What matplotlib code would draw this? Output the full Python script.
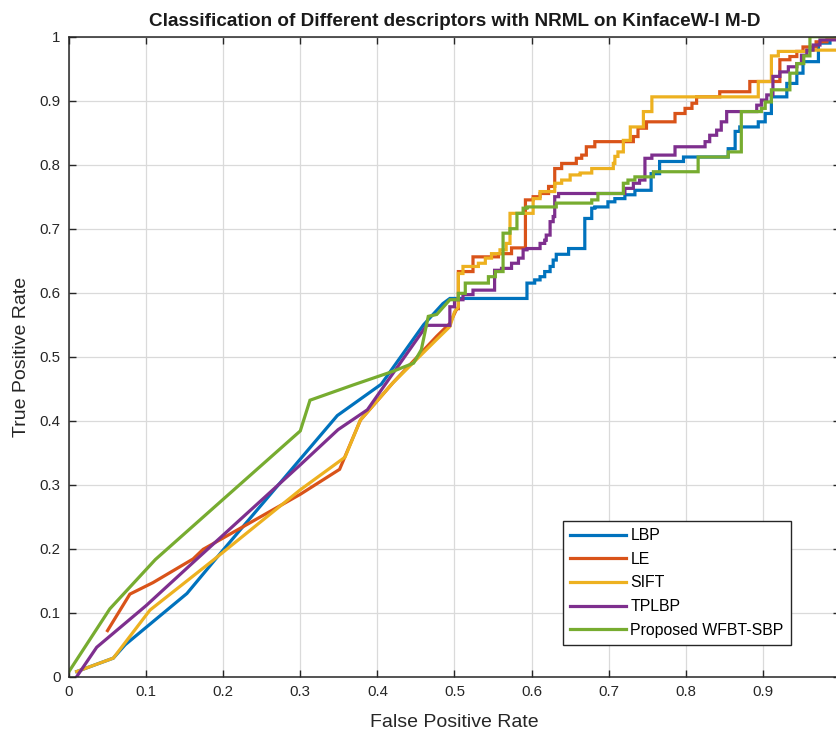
import matplotlib
matplotlib.use("Agg")
import matplotlib.pyplot as plt

plt.rcParams['font.family'] = ['Liberation Sans', 'DejaVu Sans']

labels = ["LBP", "LE", "SIFT", "TPLBP", "Proposed WFBT-SBP"]
colors = ["#0072BD", "#D95319", "#EDB120", "#7E2F8E", "#77AC30"]

# ---- linear (low FPR) part of each curve ----
lbp_x = [0.010, 0.0575, 0.073, 0.153, 0.200, 0.300, 0.348, 0.405, 0.460, 0.485, 0.494]
lbp_y = [0.008, 0.029, 0.050, 0.130, 0.198, 0.340, 0.408, 0.457, 0.550, 0.583, 0.591]
le_x = [0.050, 0.079, 0.109, 0.161, 0.174, 0.300, 0.351, 0.378, 0.420, 0.477, 0.494, 0.503]
le_y = [0.072, 0.129, 0.147, 0.184, 0.199, 0.285, 0.324, 0.401, 0.459, 0.532, 0.552, 0.575]
sift_x = [0.010, 0.0575, 0.105, 0.187, 0.300, 0.358, 0.378, 0.420, 0.477, 0.494, 0.500, 0.505]
sift_y = [0.008, 0.029, 0.104, 0.182, 0.292, 0.343, 0.401, 0.459, 0.527, 0.547, 0.570, 0.578]
tplbp_x = [0.010, 0.036, 0.100, 0.166, 0.300, 0.349, 0.387, 0.464]
tplbp_y = [0.000, 0.046, 0.111, 0.184, 0.331, 0.386, 0.417, 0.549]
prop_x = [0.000, 0.053, 0.112, 0.2045, 0.300, 0.3126, 0.369, 0.420, 0.447, 0.457, 0.466, 0.477, 0.494]
prop_y = [0.008, 0.106, 0.183, 0.282, 0.384, 0.432, 0.456, 0.477, 0.490, 0.511, 0.563, 0.566, 0.589]

# ---- staircase (steps-post) part of each curve ----
lbp_sx = [0.494, 0.594, 0.604, 0.611, 0.617, 0.624, 0.628, 0.632, 0.648, 0.669, 0.678, 0.682,
          0.699, 0.708, 0.721, 0.734, 0.755, 0.766, 0.797, 0.855, 0.864, 0.870, 0.894, 0.903,
          0.911, 0.931, 0.944, 0.952, 0.972, 0.987, 1.000]
lbp_sy = [0.591, 0.615, 0.620, 0.625, 0.633, 0.641, 0.651, 0.660, 0.669, 0.716, 0.732, 0.734,
          0.742, 0.747, 0.753, 0.760, 0.786, 0.805, 0.812, 0.825, 0.852, 0.859, 0.867, 0.880,
          0.906, 0.927, 0.943, 0.961, 0.990, 0.997, 0.997]
le_sx = [0.503, 0.505, 0.524, 0.557, 0.574, 0.592, 0.602, 0.611, 0.622, 0.630, 0.639, 0.658,
         0.665, 0.671, 0.682, 0.732, 0.738, 0.749, 0.786, 0.799, 0.808, 0.814, 0.844, 0.883,
         0.922, 0.935, 0.944, 0.952, 0.969, 0.983, 1.000]
le_sy = [0.575, 0.633, 0.656, 0.661, 0.670, 0.745, 0.750, 0.755, 0.766, 0.794, 0.802, 0.810,
         0.815, 0.828, 0.836, 0.844, 0.857, 0.867, 0.880, 0.888, 0.896, 0.906, 0.914, 0.930,
         0.964, 0.969, 0.977, 0.984, 0.992, 0.997, 0.997]
sift_sx = [0.505, 0.505, 0.511, 0.531, 0.540, 0.548, 0.559, 0.567, 0.572, 0.602, 0.611, 0.630,
           0.639, 0.650, 0.663, 0.678, 0.706, 0.708, 0.712, 0.719, 0.728, 0.745, 0.756, 0.894,
           0.911, 0.920, 0.957, 1.000]
sift_sy = [0.578, 0.630, 0.641, 0.646, 0.654, 0.661, 0.667, 0.677, 0.724, 0.747, 0.758, 0.771,
           0.776, 0.784, 0.787, 0.794, 0.802, 0.813, 0.820, 0.838, 0.859, 0.883, 0.906, 0.930,
           0.970, 0.977, 0.979, 0.979]
tplbp_sx = [0.464, 0.494, 0.500, 0.511, 0.524, 0.552, 0.561, 0.574, 0.583, 0.589, 0.594, 0.611,
            0.617, 0.619, 0.624, 0.628, 0.630, 0.635, 0.721, 0.732, 0.740, 0.747, 0.756, 0.786,
            0.825, 0.831, 0.840, 0.846, 0.853, 0.892, 0.898, 0.905, 0.913, 0.922, 0.933, 0.944,
            0.950, 0.957, 0.965, 0.974, 1.000]
tplbp_sy = [0.549, 0.578, 0.589, 0.597, 0.604, 0.635, 0.638, 0.646, 0.654, 0.667, 0.669, 0.677,
            0.682, 0.690, 0.711, 0.719, 0.750, 0.755, 0.763, 0.771, 0.776, 0.810, 0.815, 0.828,
            0.836, 0.846, 0.854, 0.867, 0.883, 0.893, 0.901, 0.909, 0.938, 0.945, 0.953, 0.958,
            0.971, 0.979, 0.987, 0.995, 0.995]
prop_sx = [0.494, 0.505, 0.514, 0.544, 0.553, 0.563, 0.572, 0.581, 0.589, 0.594, 0.632, 0.678,
           0.686, 0.719, 0.725, 0.734, 0.758, 0.816, 0.855, 0.872, 0.898, 0.903, 0.911, 0.935,
           0.944, 0.953, 0.961, 1.000]
prop_sy = [0.589, 0.599, 0.615, 0.625, 0.633, 0.693, 0.700, 0.724, 0.732, 0.734, 0.740, 0.745,
           0.755, 0.771, 0.776, 0.781, 0.789, 0.812, 0.820, 0.883, 0.888, 0.898, 0.917, 0.943,
           0.958, 0.970, 1.000, 1.000]

tick_vals = [0, 0.1, 0.2, 0.3, 0.4, 0.5, 0.6, 0.7, 0.8, 0.9, 1]
x_tick_labels = ["0", "0.1", "0.2", "0.3", "0.4", "0.5", "0.6", "0.7", "0.8", "0.9", ""]
y_tick_labels = ["0", "0.1", "0.2", "0.3", "0.4", "0.5", "0.6", "0.7", "0.8", "0.9", "1"]

series = [
    (lbp_x, lbp_y, lbp_sx, lbp_sy),
    (le_x, le_y, le_sx, le_sy),
    (sift_x, sift_y, sift_sx, sift_sy),
    (tplbp_x, tplbp_y, tplbp_sx, tplbp_sy),
    (prop_x, prop_y, prop_sx, prop_sy),
]


def build(lx, ly, sx, sy):
    xs = list(lx[:-1])
    ys = list(ly[:-1])
    for i in range(len(sx)):
        if i > 0:
            xs.append(sx[i]); ys.append(sy[i - 1])
        xs.append(sx[i]); ys.append(sy[i])
    return xs, ys


fig = plt.figure(figsize=(8.37, 7.31), dpi=100)
ax = fig.add_axes([0.0824, 0.0743, 1.0036 - 0.0824, 0.9498 - 0.0743])

for (lx, ly, sx, sy), lab, col in zip(series, labels, colors):
    xs, ys = build(lx, ly, sx, sy)
    ax.plot(xs, ys, color=col, lw=2.3, label=lab, solid_joinstyle='miter')

ax.set_xlim(0, 1)
ax.set_ylim(0, 1)
ax.set_xticks(tick_vals)
ax.set_xticklabels(x_tick_labels)
ax.set_yticks(tick_vals)
ax.set_yticklabels(y_tick_labels)
ax.tick_params(direction='in', top=True, right=True, length=5, width=1.0,
               labelsize=10.8, colors='#262626', pad=6)
ax.grid(True, color='#dadada', lw=0.9)
ax.set_axisbelow(True)
for s in ax.spines.values():
    s.set_color('#262626')
    s.set_linewidth(1.1)

ax.set_title("Classification of Different descriptors with NRML on KinfaceW-I M-D",
             fontsize=13.6, fontweight='bold', pad=8, color='#1a1a1a')
ax.set_xlabel("False Positive Rate", fontsize=14, color='#262626', labelpad=11)
ax.set_ylabel("True Positive Rate", fontsize=14, color='#262626', labelpad=7)

leg = ax.legend(loc='lower left', bbox_to_anchor=(0.641, 0.0495), fontsize=11.4,
                frameon=True, fancybox=False, edgecolor='#262626', framealpha=1,
                handlelength=3.5, handletextpad=0.3, labelspacing=0.55,
                borderpad=0.45, borderaxespad=0)
leg.get_frame().set_linewidth(1.0)

fig.savefig("out.png", dpi=100)
